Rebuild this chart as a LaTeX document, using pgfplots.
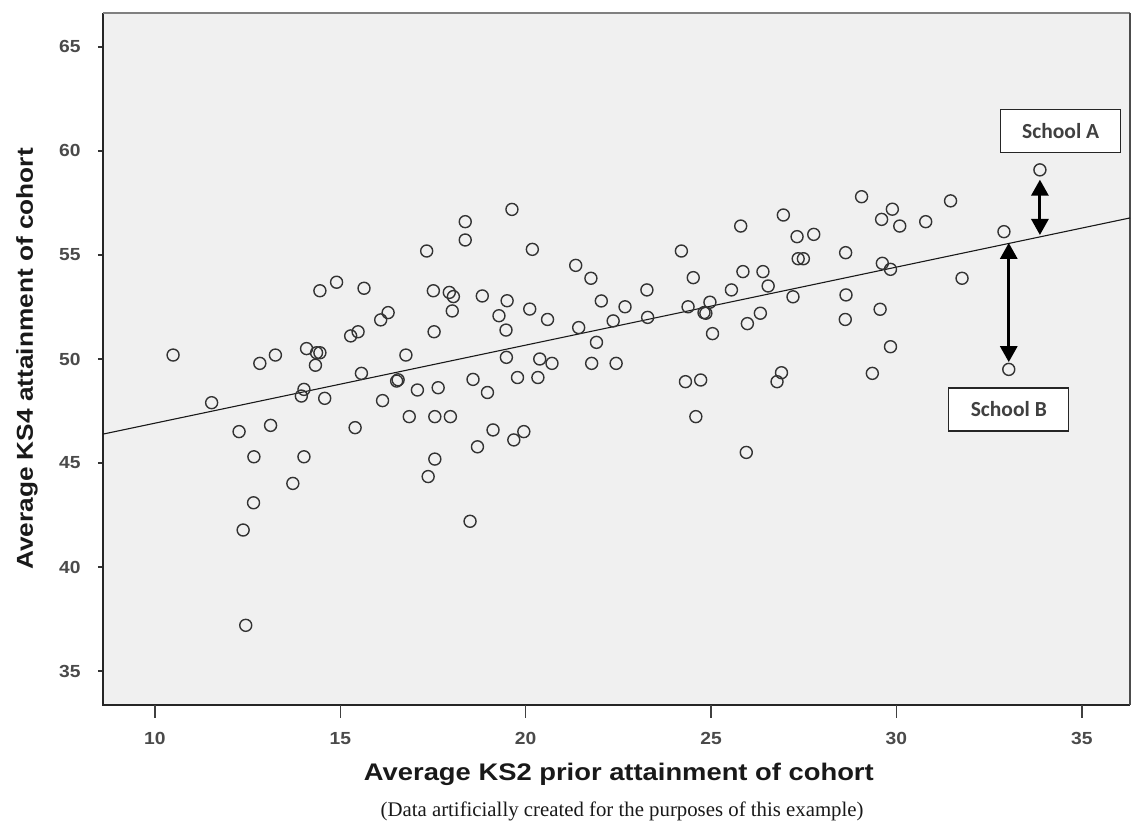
\documentclass[border=0pt]{standalone}
\usepackage{fontspec}
\setmainfont{Liberation Sans}
\newfontfamily\labfont[FakeStretch=1.14]{Liberation Sans}
\newfontfamily\tickfont[FakeStretch=1.1]{Liberation Sans}
\newfontfamily\calfont{Carlito}
\newfontfamily\capfont{Liberation Serif}
\usepackage{pgfplots}
\pgfplotsset{compat=1.18}
\usetikzlibrary{arrows.meta}
\definecolor{bgcol}{HTML}{F0F0F0}
\definecolor{tickgray}{HTML}{4A4A4A}
\definecolor{markcol}{HTML}{333333}
\definecolor{boxtext}{HTML}{404040}

\begin{document}
\begin{tikzpicture}
\useasboundingbox (-103pt,-118pt) rectangle (1029pt,705pt);
\begin{axis}[
  name=ax, at={(0,0)}, anchor=south west,
  scale only axis, width=1027pt, height=692pt,
  xmin=8.6, xmax=36.3, ymin=33.37, ymax=66.63,
  clip=false,
  axis background/.style={fill=bgcol},
  axis line style={draw=none},
  xtick={10,15,20,25,30,35}, ytick={35,40,45,50,55,60,65},
  tick align=outside, major tick length=5pt,
  xtick pos=bottom, ytick pos=left,
  xtick style={draw=none},
  ytick style={line width=1.3pt, black!80},
  /pgf/number format/assume math mode=true,
  ticklabel style={font=\tickfont\bfseries\fontsize{17.5}{19}\selectfont, text=tickgray},
  xticklabel style={yshift=-19pt},
  yticklabel style={xshift=-14pt},
  xlabel={Average KS2 prior attainment of cohort},
  ylabel={Average KS4 attainment of cohort},
  xlabel style={at={(axis description cs:0.5023,-0.1084)}, anchor=base,
    font=\labfont\bfseries\fontsize{24}{28}\selectfont, text=black!90},
  ylabel style={at={(axis description cs:-0.0682,0.5)}, anchor=base, rotate=0,
    font=\labfont\bfseries\fontsize{23}{27}\selectfont, text=black!90},
]
% frame
\draw[black!85, line width=1.5pt] (rel axis cs:0,1) -- (rel axis cs:0,0) -- (rel axis cs:1,0);
\draw[gray, line width=2.2pt] (rel axis cs:0,1) -- (rel axis cs:1,1);
\draw[black!70, line width=1.3pt] (rel axis cs:1,1) -- (rel axis cs:1,0);
\pgfplotsinvokeforeach{10,15,20,25,30,35}{
  \draw[line width=1.5pt, black!75] (axis cs:#1,33.37) -- ++(0pt,-13pt);
}

% fit line
\addplot[black!90, line width=1.1pt] coordinates {(8.6,46.39) (36.3,56.78)};

% schools
\addplot[only marks, mark=o, mark size=6pt, mark options={line width=1.4pt, draw=markcol}] coordinates {
(10.49,50.19) (11.53,47.90) (12.27,46.51) (12.38,41.78) (12.45,37.20)
(12.66,43.09) (12.67,45.30) (12.83,49.79) (13.12,46.81) (13.25,50.19)
(13.72,44.02) (13.95,48.22) (14.02,48.54) (14.02,45.30) (14.09,50.50)
(14.33,49.70) (14.36,50.30) (14.45,50.30) (14.45,53.28) (14.58,48.11)
(14.90,53.69) (15.28,51.11) (15.40,46.70) (15.48,51.31) (15.57,49.31)
(15.64,53.40) (16.09,51.88) (16.14,48.00) (16.29,52.23) (16.52,48.94)
(16.56,49.00) (16.77,50.19) (16.86,47.23) (17.08,48.51) (17.33,55.19)
(17.37,44.35) (17.51,53.28) (17.53,51.31) (17.55,47.23) (17.55,45.19)
(17.64,48.62) (17.94,53.20) (18.05,53.00) (18.02,52.31) (17.97,47.23)
(18.37,56.60) (18.37,55.72) (18.83,53.03) (18.58,49.02) (18.97,48.39)
(19.12,46.59) (18.70,45.78) (18.50,42.20) (19.63,57.19) (19.28,52.08)
(19.50,52.80) (19.47,51.39) (19.48,50.08) (19.78,49.11) (20.33,49.11)
(20.38,50.00) (20.71,49.79) (19.95,46.51) (19.68,46.11) (20.11,52.40)
(20.59,51.90) (20.18,55.27) (21.35,54.50) (21.76,53.88) (21.43,51.51)
(22.04,52.79) (21.91,50.80) (21.78,49.79) (22.44,49.79) (22.36,51.83)
(22.68,52.51) (23.27,53.32) (23.29,52.00) (24.20,55.19) (24.52,53.91)
(24.38,52.51) (24.97,52.73) (24.81,52.23) (24.86,52.20) (25.04,51.22)
(25.55,53.32) (25.86,54.20) (25.98,51.70) (24.31,48.91) (24.72,48.99)
(24.59,47.23) (25.95,45.51) (25.80,56.39) (26.95,56.92) (27.32,55.88)
(27.77,55.99) (27.35,54.82) (27.49,54.82) (28.63,55.11) (29.06,57.80)
(29.60,56.71) (29.89,57.20) (30.09,56.39) (30.79,56.60) (31.46,57.60)
(32.90,56.12) (33.87,59.09) (29.62,54.60) (29.84,54.31) (31.77,53.88)
(26.40,54.20) (26.54,53.51) (27.21,52.99) (28.64,53.08) (26.33,52.20)
(28.62,51.90) (29.56,52.39) (29.84,50.59) (26.90,49.34) (26.78,48.91)
(29.35,49.31) (33.03,49.50)
};

% annotations
\draw[line width=3pt, {Triangle[width=17pt,length=16pt]}-{Triangle[width=17pt,length=16pt]}]
  (axis cs:33.87,55.96) -- (axis cs:33.87,58.62);
\draw[line width=3pt, {Triangle[width=17pt,length=16pt]}-{Triangle[width=17pt,length=16pt]}]
  (axis cs:33.03,55.58) -- (axis cs:33.03,49.85);
\node[draw=black!85, fill=white, line width=1.3pt, minimum width=120pt, minimum height=43pt,
  inner sep=0pt, text=boxtext, font=\calfont\bfseries\fontsize{21.5}{24}\selectfont]
  at (axis cs:34.43,60.96) {School A};
\node[draw=black!85, fill=white, line width=1.3pt, minimum width=120pt, minimum height=43pt,
  inner sep=0pt, text=boxtext, font=\calfont\bfseries\fontsize{21.5}{24}\selectfont]
  at (axis cs:33.03,47.58) {School B};

\node[anchor=base, font=\capfont\fontsize{20.8}{24}\selectfont, text=black!90]
  at (axis description cs:0.5054,-0.1618) {(Data artificially created for the purposes of this example)};
\end{axis}
\end{tikzpicture}
\end{document}
